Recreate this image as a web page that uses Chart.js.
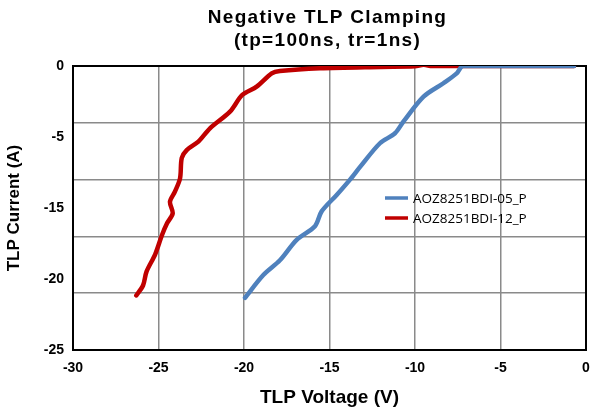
<!DOCTYPE html>
<html><head><meta charset="utf-8">
<script src="https://cdn.jsdelivr.net/npm/chart.js@4.4.1/dist/chart.umd.min.js"></script>
<style>html,body{margin:0;padding:0;background:#fff;overflow:hidden;}#wrap{width:593px;height:413px;}canvas{display:block;}</style>
</head><body><div id="wrap"><canvas id="c" width="593" height="413"></canvas></div>
<script>
const titleLines = ['Negative TLP Clamping', '(tp=100ns, tr=1ns)'];
const xTitle = 'TLP Voltage (V)';
const yTitle = 'TLP Current (A)';
const xTicks = [-30, -25, -20, -15, -10, -5, 0];
const yTickLabels = ['0', '-5', '-15', '-20', '-25'];
const seriesNames = ['AOZ8251BDI-05_P', 'AOZ8251BDI-12_P'];

const blueX = [-19.94, -18.87, -17.9, -16.92, -15.85, -15.46, -14.58, -13.8, -13.2, -12.05, -11.17, -10.68, -9.5, -8.34, -7.56, -7.2, -5, -3, -0.7];
const blueY = [-20.4, -18.4, -17.1, -15.3, -14.1, -12.8, -11.35, -10.0, -8.86, -6.8, -5.92, -4.9, -2.7, -1.52, -0.65, 0, 0, 0, 0];
const redX = [-26.3, -25.9, -25.7, -25.2, -24.8, -24.5, -24.17, -24.33, -24.04, -23.74, -23.64, -23.35, -22.67, -21.99, -20.82, -20.1, -19.26, -18.38, -17.9, -15.56, -12, -10, -9.5, -9, -5, -0.7];
const redY = [-20.2, -19.3, -18.1, -16.6, -14.9, -13.85, -12.97, -11.95, -11.06, -9.89, -8.1, -7.4, -6.66, -5.49, -4.02, -2.55, -1.82, -0.65, -0.44, -0.2, -0.08, -0.03, 0.1, 0, 0, 0];

const colors = ['#4F81BD', '#C00000'];
const toPts = (xs, ys) => xs.map((x, i) => ({x: x, y: ys[i]}));

const framePlugin = {
  id: 'frame',
  beforeDatasetsDraw(chart) {
    const {ctx, chartArea: a} = chart;
    ctx.save();
    ctx.strokeStyle = '#000';
    ctx.lineWidth = 2;
    ctx.strokeRect(a.left, a.top, a.right - a.left, a.bottom - a.top);
    ctx.restore();
  },
  afterDraw(chart) {
    const {ctx, chartArea: a} = chart;
    ctx.save();
    ctx.fillStyle = '#000';
    ctx.font = 'bold 19px "Liberation Sans", Arial, sans-serif';
    if ('letterSpacing' in ctx) ctx.letterSpacing = '1.3px';
    ctx.textAlign = 'center';
    ctx.textBaseline = 'middle';
    const cx = (a.left + a.right) / 2 - 2;
    ctx.fillText(titleLines[0], cx, 18);
    ctx.fillText(titleLines[1], cx, 41);
    if ('letterSpacing' in ctx) ctx.letterSpacing = '0px';
    ctx.font = '13.5px "Open Sans", sans-serif';
    ctx.textAlign = 'left';
    const lx = a.left + 312, ly = a.top + 132;
    chart.data.datasets.forEach((ds, i) => {
      const y = ly + i * 20;
      ctx.strokeStyle = ds.borderColor;
      ctx.lineWidth = 3.5;
      ctx.beginPath();
      ctx.moveTo(lx, y);
      ctx.lineTo(lx + 23, y);
      ctx.stroke();
      ctx.fillStyle = '#000';
      ctx.fillText(ds.label, lx + 28, y + 1);
    });
    ctx.restore();
  }
};

new Chart(document.getElementById('c'), {
  type: 'scatter',
  data: {
    datasets: [
      {label: seriesNames[0], data: toPts(blueX, blueY), borderColor: colors[0], backgroundColor: colors[0], showLine: true, borderWidth: 4.5, pointRadius: 0, tension: 0.3, borderCapStyle: 'round', borderJoinStyle: 'round'},
      {label: seriesNames[1], data: toPts(redX, redY), borderColor: colors[1], backgroundColor: colors[1], showLine: true, borderWidth: 4.5, pointRadius: 0, tension: 0.3, borderCapStyle: 'round', borderJoinStyle: 'round'}
    ]
  },
  options: {
    responsive: false,
    animation: false,
    devicePixelRatio: 1,
    layout: {padding: {top: 66, right: 7, left: 0, bottom: 0}},
    plugins: {legend: {display: false}, title: {display: false}, tooltip: {enabled: false}},
    scales: {
      x: {
        type: 'linear', min: xTicks[0], max: xTicks[xTicks.length - 1],
        afterBuildTicks: (s) => { s.ticks = xTicks.map(v => ({value: v})); },
        afterFit: (s) => { s.height = 63; s.paddingRight = 0; s.paddingLeft = 0; },
        grid: {color: '#8a8a8a', lineWidth: 1.5, drawTicks: false},
        border: {display: false},
        ticks: {color: '#000', font: {family: '"Liberation Sans", Arial', size: 14, weight: 'bold'}, padding: 10, maxRotation: 0, autoSkip: false},
        title: {display: true, text: xTitle, color: '#000', font: {family: '"Liberation Sans", Arial', size: 19, weight: 'bold'}, padding: {top: 8}}
      },
      y: {
        type: 'linear', min: -25, max: 0, position: 'left',
        ticks: {display: false, stepSize: 5},
        afterFit: (s) => { s.width = 0; },
        grid: {color: '#8a8a8a', lineWidth: 1.5, drawTicks: false},
        border: {display: false}
      },
      yLab: {
        type: 'linear', min: 0, max: yTickLabels.length - 1, position: 'left',
        afterFit: (s) => { s.width = 73; },
        grid: {display: false, drawTicks: false},
        border: {display: false},
        ticks: {stepSize: 1, color: '#000', font: {family: '"Liberation Sans", Arial', size: 14, weight: 'bold'}, padding: 9,
          callback: (v) => yTickLabels[yTickLabels.length - 1 - v]},
        title: {display: true, text: yTitle, color: '#000', font: {family: '"Liberation Sans", Arial', size: 17, weight: 'bold'}, padding: {bottom: 0, top: 4}}
      }
    }
  },
  plugins: [framePlugin]
});
</script></body></html>
